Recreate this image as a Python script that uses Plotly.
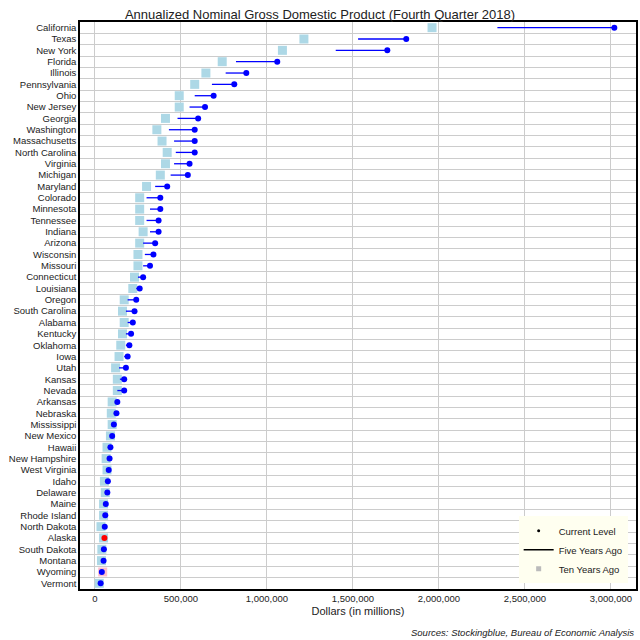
import plotly.graph_objects as go

states = ["California","Texas","New York","Florida","Illinois","Pennsylvania","Ohio","New Jersey","Georgia","Washington","Massachusetts","North Carolina","Virginia","Michigan","Maryland","Colorado","Minnesota","Tennessee","Indiana","Arizona","Wisconsin","Missouri","Connecticut","Louisiana","Oregon","South Carolina","Alabama","Kentucky","Oklahoma","Iowa","Utah","Kansas","Nevada","Arkansas","Nebraska","Mississippi","New Mexico","Hawaii","New Hampshire","West Virginia","Idaho","Delaware","Maine","Rhode Island","North Dakota","Alaska","South Dakota","Montana","Wyoming","Vermont"]
current = [3020000,1810000,1700000,1060000,880000,810000,690000,640000,600000,580000,580000,580000,550000,540000,420000,380000,380000,370000,370000,350000,340000,320000,280000,260000,240000,230000,220000,210000,200000,190000,180000,170000,170000,130000,125000,110000,100000,90000,85000,80000,75000,72000,63000,60000,57000,55000,52000,50000,40000,33000]
five_years = [2340000,1530000,1400000,820000,760000,680000,580000,550000,480000,430000,460000,470000,460000,440000,350000,300000,320000,300000,320000,280000,290000,280000,250000,240000,190000,180000,190000,180000,180000,170000,140000,145000,130000,120000,110000,105000,95000,75000,70000,75000,60000,65000,55000,55000,55000,58000,47000,45000,38000,30000]
ten_years = [1960000,1215000,1090000,740000,645000,580000,490000,490000,410000,360000,390000,420000,410000,380000,300000,260000,260000,260000,280000,260000,250000,250000,230000,220000,170000,160000,170000,160000,150000,140000,120000,130000,130000,100000,95000,100000,90000,70000,65000,70000,55000,60000,50000,50000,35000,50000,40000,38000,45000,25000]
xticks = [0,500000,1000000,1500000,2000000,2500000,3000000]

n = len(states)
ys = list(range(n))
fig = go.Figure()
sq_col = ["pink" if t > c else "lightblue" for t, c in zip(ten_years, current)]
fig.add_trace(go.Scatter(x=ten_years, y=ys, mode="markers", marker=dict(symbol="square", size=9, color=sq_col), showlegend=False, hoverinfo="skip"))
lx, ly = [], []
for i in range(n):
    lx += [five_years[i], current[i], None]
    ly += [i, i, None]
fig.add_trace(go.Scatter(x=lx, y=ly, mode="lines", line=dict(color="blue", width=1.3), showlegend=False))
dot_col = ["red" if c < f else "blue" for c, f in zip(current, five_years)]
fig.add_trace(go.Scatter(x=current, y=ys, mode="markers", marker=dict(size=6, color=dot_col), showlegend=False))
fig.add_trace(go.Scatter(x=[None], y=[None], mode="markers", marker=dict(size=3, color="black"), name="Current Level"))
fig.add_trace(go.Scatter(x=[None], y=[None], mode="lines", line=dict(color="black", width=1.5), name="Five Years Ago"))
fig.add_trace(go.Scatter(x=[None], y=[None], mode="markers", marker=dict(symbol="square", size=5, color="#bbbbbb"), name="Ten Years Ago"))

fig.update_layout(
    width=640, height=640, plot_bgcolor="white", paper_bgcolor="white",
    font=dict(family="Liberation Sans, Arial", size=9.5, color="#222"),
    title=dict(text="Annualized Nominal Gross Domestic Product (Fourth Quarter 2018)", x=0.5, xanchor="center", y=0.985, font=dict(size=13)),
    margin=dict(l=80, r=4, t=22, b=51, autoexpand=False),
    legend=dict(x=0.985, y=0.01, xanchor="right", yanchor="bottom", bgcolor="#fffff0", font=dict(size=9.5), tracegroupgap=0, itemwidth=30),
    annotations=[dict(text="<i>Sources: Stockingblue, Bureau of Economic Analysis</i>", xref="paper", yref="paper", x=1.0, y=-0.063, xanchor="right", yanchor="top", showarrow=False, font=dict(size=9.5))],
)
fig.update_xaxes(range=[-87000, 3146000], tickvals=xticks, tickformat=",d", showgrid=True, gridcolor="#cccccc", zeroline=False,
                 showline=True, linecolor="black", mirror=True, linewidth=1.5, title=dict(text="Dollars (in millions)", standoff=4), ticks="")
fig.update_yaxes(range=[n - 0.5, -0.5], tickvals=ys, ticktext=states, showgrid=False, zeroline=False,
                 showline=True, linecolor="black", mirror=True, linewidth=1.5, ticks="", automargin=False,
                 minor=dict(tickvals=[i + 0.5 for i in range(n - 1)], showgrid=True, gridcolor="#cccccc"))
fig.write_html("out.html", config={"displayModeBar": False}, post_script="document.body.style.margin='0';document.body.style.overflow='hidden';")
